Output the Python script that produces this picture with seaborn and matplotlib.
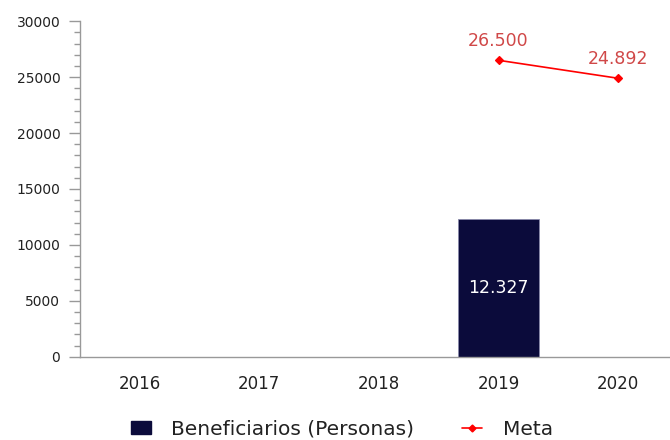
import numpy as np
import pandas as pd
import matplotlib
matplotlib.use("Agg")
import matplotlib.pyplot as plt
from matplotlib.ticker import MultipleLocator
from matplotlib.lines import Line2D
from matplotlib.patches import Patch
import seaborn as sns

# datos
years = ["2016", "2017", "2018", "2019", "2020"]
beneficiarios = [np.nan, np.nan, np.nan, 12327, np.nan]
meta = [np.nan, np.nan, np.nan, 26500, 24892]

df = pd.DataFrame({"year": years, "beneficiarios": beneficiarios, "meta": meta})

sns.set_style("white")
plt.rcParams["font.family"] = ["DejaVu Sans"]

bar_color = "#0b0b3b"
line_color = "#ff0000"
label_red = "#d04848"

fig = plt.figure(figsize=(6.7, 4.4), dpi=100)
ax = fig.add_axes([0.119, 0.189, 0.893, 0.763])

sns.barplot(data=df, x="year", y="beneficiarios", order=years, color=bar_color,
            width=0.68, edgecolor="#8888aa", linewidth=0.6, saturation=1, ax=ax)
sns.pointplot(data=df, x="year", y="meta", order=years, color=line_color,
              markers="D", markersize=4, linewidth=1.2, ax=ax)

# etiquetas
for i, v in enumerate(beneficiarios):
    if not np.isnan(v):
        ax.text(i, v / 2, f"{int(v):,}".replace(",", "."), ha="center", va="center",
                color="white", fontsize=12.5)
for i, v in enumerate(meta):
    if not np.isnan(v):
        ax.text(i, v + 900, f"{int(v):,}".replace(",", "."), ha="center", va="bottom",
                color=label_red, fontsize=12.5)

ax.set_ylim(0, 30000)
ax.set_xlim(-0.5, 4.5)
ax.yaxis.set_major_locator(MultipleLocator(5000))
ax.yaxis.set_minor_locator(MultipleLocator(1000))
ax.set_xlabel("")
ax.set_ylabel("")

for s in ["top", "right"]:
    ax.spines[s].set_visible(False)
for s in ["left", "bottom"]:
    ax.spines[s].set_color("#999999")
    ax.spines[s].set_linewidth(1)

ax.tick_params(axis="y", which="major", length=8, width=1, color="#999999",
               labelsize=10, labelcolor="#222222", left=True, pad=6)
ax.tick_params(axis="y", which="minor", length=4, width=1, color="#999999", left=True)
ax.tick_params(axis="x", which="major", length=0, pad=13, labelsize=12,
               labelcolor="#222222")

handles = [
    Patch(facecolor=bar_color, edgecolor=bar_color, label="Beneficiarios (Personas)"),
    Line2D([0], [0], color=line_color, marker="D", markersize=3.5, lw=1.2, label="Meta"),
]
fig.legend(handles=handles, loc="center", bbox_to_anchor=(0.51, 0.025), ncol=2,
           frameon=False, fontsize=14.5, handlelength=1.0, handleheight=0.6,
           columnspacing=2.4, handletextpad=1.0, labelcolor="#222222")

fig.savefig("out.png", dpi=100)
